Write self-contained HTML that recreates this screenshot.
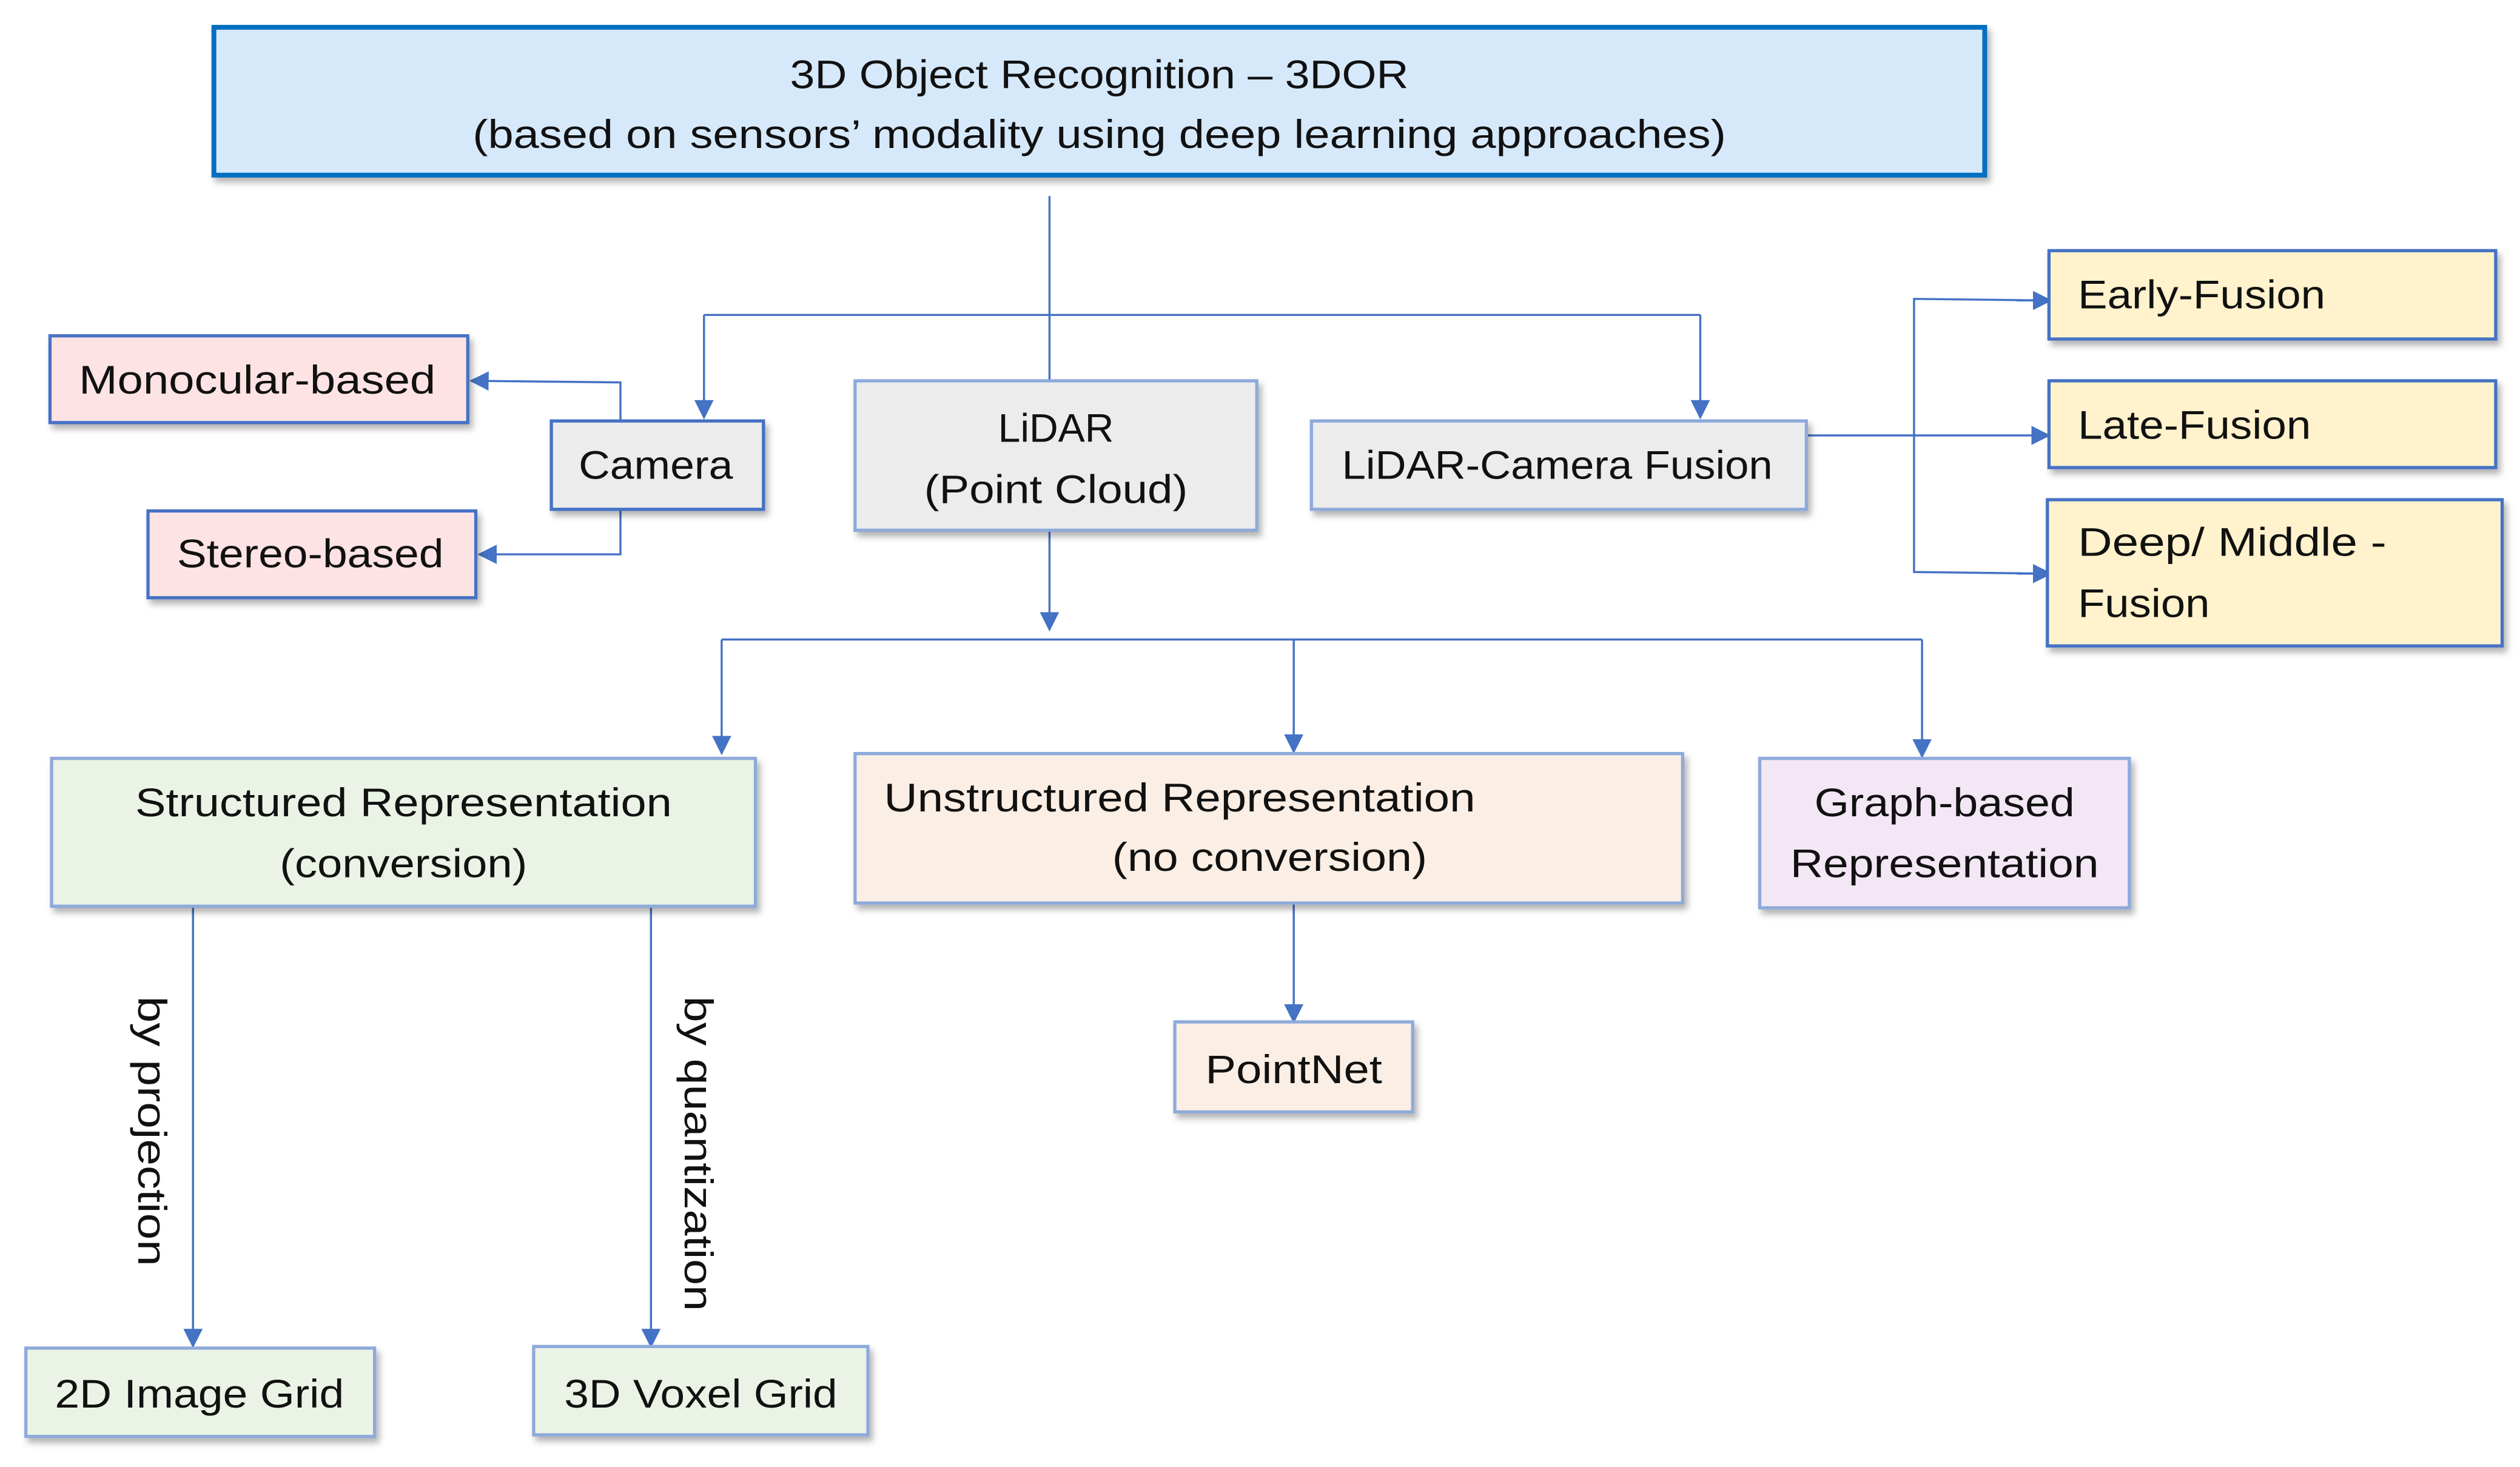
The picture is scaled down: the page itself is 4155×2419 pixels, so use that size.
<!DOCTYPE html>
<html><head><meta charset="utf-8"><style>
html,body{margin:0;padding:0;background:#fff;}
svg{display:block;}
text{font-family:"Liberation Sans",sans-serif;font-size:25px;fill:#111;}
</style></head><body>
<svg width="4155" height="2419" viewBox="0 0 1568 913" xmlns="http://www.w3.org/2000/svg">
<defs>
<filter id="sh" x="-10%" y="-10%" width="130%" height="140%"><feDropShadow dx="2" dy="3" stdDeviation="2" flood-color="#000" flood-opacity="0.3"/></filter>
<marker id="a" markerWidth="12" markerHeight="12" refX="11" refY="6" orient="auto" markerUnits="userSpaceOnUse"><path d="M0,0 L12,6 L0,12 Z" fill="#4472c4"/></marker>
</defs>
<g fill="none" stroke="#4472c4" stroke-width="1.3">
<line x1="653" y1="122" x2="653" y2="237"/>
<polyline points="438,196 438,196 1058,196"/>
<line x1="438" y1="196" x2="438" y2="260" marker-end="url(#a)"/>
<line x1="1058" y1="196" x2="1058" y2="260" marker-end="url(#a)"/>
<polyline points="386,262 386,238 293,237" marker-end="url(#a)"/>
<polyline points="386,317 386,345 298,345" marker-end="url(#a)"/>
<line x1="653" y1="330" x2="653" y2="392" marker-end="url(#a)"/>
<line x1="449" y1="398" x2="1196" y2="398"/>
<line x1="449" y1="398" x2="449" y2="469" marker-end="url(#a)"/>
<line x1="805" y1="398" x2="805" y2="468" marker-end="url(#a)"/>
<line x1="1196" y1="398" x2="1196" y2="471" marker-end="url(#a)"/>
<line x1="1124" y1="271" x2="1275" y2="271" marker-end="url(#a)"/>
<polyline points="1274,187 1191,186 1191,356 1274,357" />
<line x1="1255" y1="187" x2="1276" y2="187" marker-end="url(#a)"/>
<line x1="1255" y1="357" x2="1276" y2="357" marker-end="url(#a)"/>
<line x1="805" y1="562" x2="805" y2="636" marker-end="url(#a)"/>
<line x1="120" y1="564" x2="120" y2="838" marker-end="url(#a)"/>
<line x1="405" y1="564" x2="405" y2="838" marker-end="url(#a)"/>
</g>
<g filter="url(#sh)">
<rect x="133" y="17" width="1102" height="92" fill="#d6e9fb" stroke="#0070c0" stroke-width="3"/>
<rect x="31" y="209" width="260" height="54" fill="#fde3e4" stroke="#4472c4" stroke-width="2"/>
<rect x="343" y="262" width="132" height="55" fill="#ececec" stroke="#4472c4" stroke-width="2"/>
<rect x="92" y="318" width="204" height="54" fill="#fde3e4" stroke="#4472c4" stroke-width="2"/>
<rect x="532" y="237" width="250" height="93" fill="#ececec" stroke="#8eaadb" stroke-width="2"/>
<rect x="816" y="262" width="308" height="55" fill="#ececec" stroke="#8eaadb" stroke-width="2"/>
<rect x="1275" y="156" width="278" height="55" fill="#fff2cc" stroke="#4472c4" stroke-width="2"/>
<rect x="1275" y="237" width="278" height="54" fill="#fff2cc" stroke="#4472c4" stroke-width="2"/>
<rect x="1274" y="311" width="283" height="91" fill="#fff2cc" stroke="#4472c4" stroke-width="2"/>
<rect x="32" y="472" width="438" height="92" fill="#ebf3e6" stroke="#8eaadb" stroke-width="2"/>
<rect x="532" y="469" width="515" height="93" fill="#fbeee4" stroke="#8eaadb" stroke-width="2"/>
<rect x="1095" y="472" width="230" height="93" fill="#f3e7f5" stroke="#8eaadb" stroke-width="2"/>
<rect x="731" y="636" width="148" height="56" fill="#fbeee4" stroke="#8eaadb" stroke-width="2"/>
<rect x="16" y="839" width="217" height="55" fill="#ebf3e6" stroke="#8eaadb" stroke-width="2"/>
<rect x="332" y="838" width="208" height="55" fill="#ebf3e6" stroke="#8eaadb" stroke-width="2"/>
</g>
<g text-anchor="middle">
<text x="684" y="55" textLength="385" lengthAdjust="spacingAndGlyphs">3D Object Recognition – 3DOR</text>
<text x="684" y="92" textLength="780" lengthAdjust="spacingAndGlyphs">(based on sensors’ modality  using deep learning approaches)</text>
<text x="160" y="245" textLength="222" lengthAdjust="spacingAndGlyphs">Monocular-based</text>
<text x="408" y="298" textLength="96" lengthAdjust="spacingAndGlyphs">Camera</text>
<text x="193" y="353" textLength="166" lengthAdjust="spacingAndGlyphs">Stereo-based</text>
<text x="657" y="275" textLength="72" lengthAdjust="spacingAndGlyphs">LiDAR</text>
<text x="657" y="313" textLength="164" lengthAdjust="spacingAndGlyphs">(Point Cloud)</text>
<text x="969" y="298" textLength="268" lengthAdjust="spacingAndGlyphs">LiDAR-Camera Fusion</text>
<text x="251" y="508" textLength="334" lengthAdjust="spacingAndGlyphs">Structured Representation</text>
<text x="251" y="546" textLength="154" lengthAdjust="spacingAndGlyphs">(conversion)</text>
<text x="790" y="542" textLength="196" lengthAdjust="spacingAndGlyphs">(no conversion)</text>
<text x="1210" y="508" textLength="162" lengthAdjust="spacingAndGlyphs">Graph-based</text>
<text x="1210" y="546" textLength="192" lengthAdjust="spacingAndGlyphs">Representation</text>
<text x="805" y="674" textLength="110" lengthAdjust="spacingAndGlyphs">PointNet</text>
<text x="124" y="876" textLength="180" lengthAdjust="spacingAndGlyphs">2D Image Grid</text>
<text x="436" y="876" textLength="170" lengthAdjust="spacingAndGlyphs">3D Voxel Grid</text>
</g>
<text x="550" y="505" textLength="368" lengthAdjust="spacingAndGlyphs">Unstructured Representation</text>
<text x="1293" y="192" textLength="154" lengthAdjust="spacingAndGlyphs">Early-Fusion</text>
<text x="1293" y="273" textLength="145" lengthAdjust="spacingAndGlyphs">Late-Fusion</text>
<text x="1293" y="346" textLength="192" lengthAdjust="spacingAndGlyphs">Deep/ Middle -</text>
<text x="1293" y="384" textLength="82" lengthAdjust="spacingAndGlyphs">Fusion</text>
<text transform="translate(86,620) rotate(90)" textLength="168" lengthAdjust="spacingAndGlyphs">by projection</text>
<text transform="translate(426,620) rotate(90)" textLength="196" lengthAdjust="spacingAndGlyphs">by quantization</text>
</svg>
</body></html>
